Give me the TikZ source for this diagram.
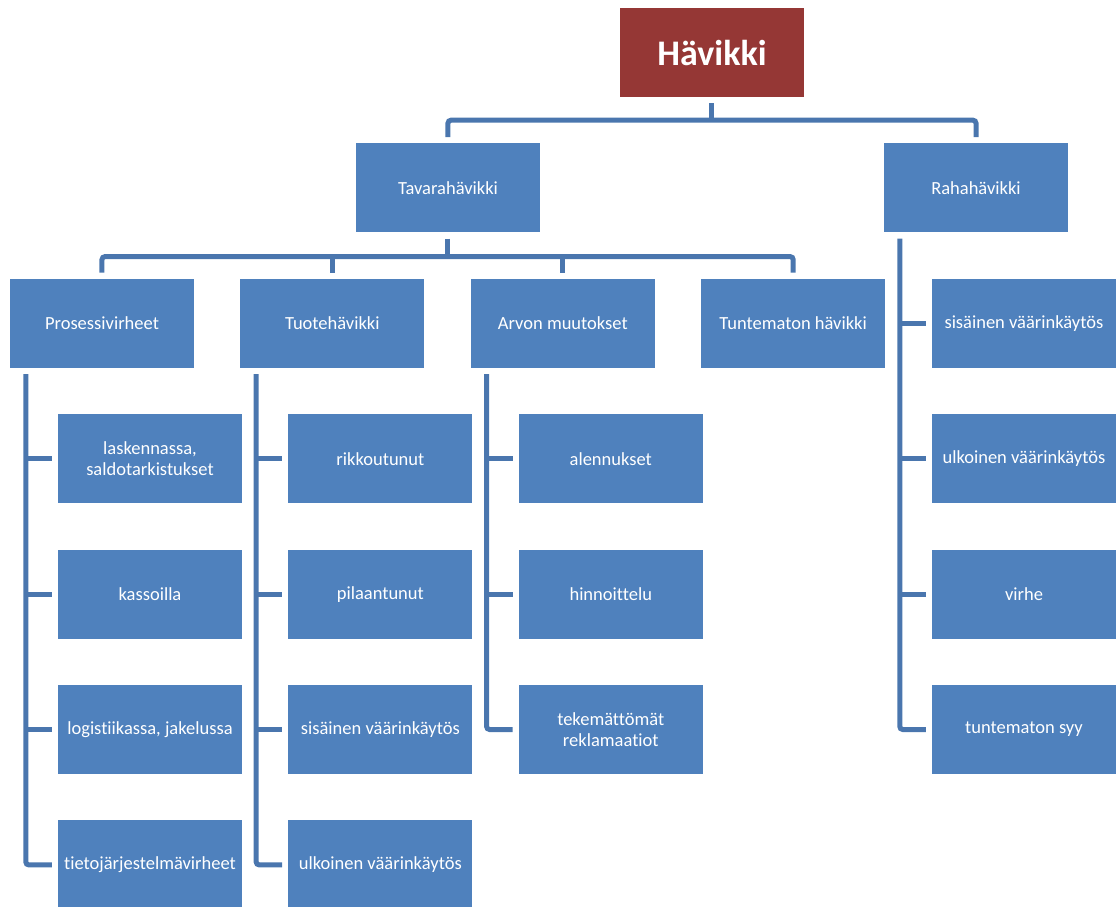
\documentclass[tikz,border=0pt]{standalone}
\usepackage{fontspec}
\setmainfont{Carlito}[Ligatures=NoCommon]
\usepackage{xcolor}
\usetikzlibrary{positioning, calc}

\definecolor{boxblue}{HTML}{4F81BD}
\definecolor{rootred}{HTML}{953735}
\definecolor{lineblue}{HTML}{4A76AE}

\begin{document}
\begin{tikzpicture}[
    node distance=46pt,
    root/.style={rectangle, minimum width=184pt, minimum height=89pt, inner sep=2pt, text centered, fill=rootred, text=white, font=\fontsize{36}{40}\selectfont\bfseries},
    item/.style={rectangle, minimum width=184pt, minimum height=89pt, inner sep=2pt, align=center, fill=boxblue, text=white, font=\fontsize{18.5}{21.5}\selectfont},
    conn/.style={line width=5pt, draw=lineblue, rounded corners=3pt}
  ]
  \useasboundingbox (-712pt,52.5pt) rectangle (405pt,-853.5pt);

  % --- NODES ---
  \node (hav) [root] {Hävikki};
  \node (tav) [item, below=of hav, xshift=-264pt] {Tavarahävikki};
  \node (raha) [item, below=of hav, xshift=264pt] {Rahahävikki};

  % Tavarahävikki
  \node (proc) [item, below=of tav, xshift=-346pt] {Prosessivirheet};
  \node (tuote) [item, right=of proc] {Tuotehävikki};
  \node (arvo) [item, right=of tuote] {Arvon muutokset};
  \node (tunt) [item, right=of arvo] {Tuntematon hävikki};

  % Prosessivirheet
  \node (proc1) [item, below=of proc, xshift=48pt] {laskennassa,\\saldotarkistukset};
  \node (proc2) [item, below=of proc1] {kassoilla};
  \node (proc3) [item, below=of proc2] {logistiikassa, jakelussa};
  \node (proc4) [item, below=of proc3] {tietojärjestelmävirheet};

  % Tuotehävikki
  \node (tuote1) [item, below=of tuote, xshift=48pt] {rikkoutunut};
  \node (tuote2) [item, below=of tuote1] {pilaantunut};
  \node (tuote3) [item, below=of tuote2] {sisäinen väärinkäytös};
  \node (tuote4) [item, below=of tuote3] {ulkoinen väärinkäytös};

  % Arvon muutokset
  \node (arvo1) [item, below=of arvo, xshift=48pt] {alennukset};
  \node (arvo2) [item, below=of arvo1] {hinnoittelu};
  \node (arvo3) [item, below=of arvo2] {tekemättömät\\reklamaatiot};

  % Rahahävikki
  \node (raha1) [item, below=of raha, xshift=48pt] {sisäinen väärinkäytös};
  \node (raha2) [item, below=of raha1] {ulkoinen väärinkäytös};
  \node (raha3) [item, below=of raha2] {virhe};
  \node (raha4) [item, below=of raha3] {tuntematon syy};

  % --- CONNECTORS ---
  \coordinate (hj) at ($(hav.south)+(0,-23pt)$);
  \draw [conn, shorten <=6pt] (hav) -- (hj);
  \draw [conn, shorten <=6pt, shorten >=6pt] (tav) |- (hj) -| (raha);

  \coordinate (tj) at ($(tav.south)+(0,-24pt)$);
  \draw [conn, shorten <=6pt] (tav) -- (tj);
  \draw [conn, shorten <=6pt, shorten >=6pt] (proc) |- (tj) -| (tunt);
  \draw [conn, shorten <=6pt] (tuote) -- (tuote |- tj);
  \draw [conn, shorten <=6pt] (arvo) -- (arvo |- tj);

  % side rails
  \coordinate (procl) at ($(proc.south west)+(16pt,0)$);
  \draw [conn, shorten <=6pt, shorten >=6pt] (procl) |- (proc4);
  \foreach \n in {proc1,proc2,proc3}
    \draw [conn, shorten >=6pt] (procl |- \n) -- (\n);

  \coordinate (tuotel) at ($(tuote.south west)+(16pt,0)$);
  \draw [conn, shorten <=6pt, shorten >=6pt] (tuotel) |- (tuote4);
  \foreach \n in {tuote1,tuote2,tuote3}
    \draw [conn, shorten >=6pt] (tuotel |- \n) -- (\n);

  \coordinate (arvol) at ($(arvo.south west)+(16pt,0)$);
  \draw [conn, shorten <=6pt, shorten >=6pt] (arvol) |- (arvo3);
  \foreach \n in {arvo1,arvo2}
    \draw [conn, shorten >=6pt] (arvol |- \n) -- (\n);

  \coordinate (rahal) at ($(raha.south west)+(16pt,0)$);
  \draw [conn, shorten <=6pt, shorten >=6pt] (rahal) |- (raha4);
  \foreach \n in {raha1,raha2,raha3}
    \draw [conn, shorten >=6pt] (rahal |- \n) -- (\n);

\end{tikzpicture}
\end{document}
